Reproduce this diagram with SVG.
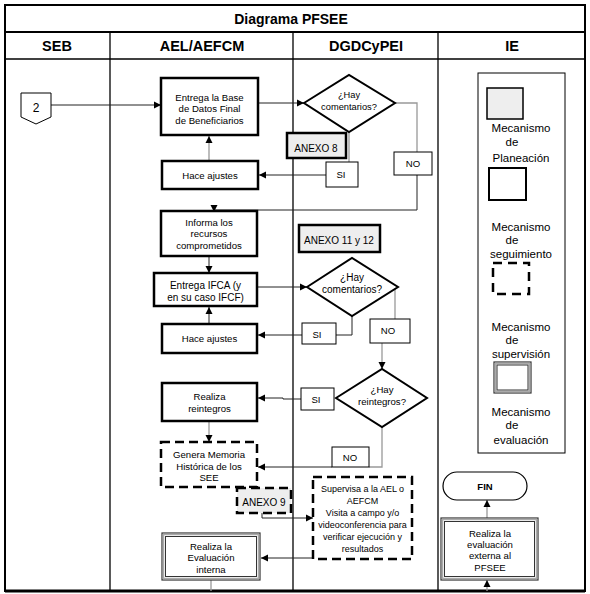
<svg xmlns="http://www.w3.org/2000/svg" width="590" height="594" viewBox="0 0 590 594">
<defs>
<style>
.frame{fill:none;stroke:#000;stroke-width:2}
.sep{stroke:#000;stroke-width:1.3;fill:none}
.box{fill:#fff;stroke:#000;stroke-width:2.5}
.dash{fill:#fff;stroke:#000;stroke-width:2.5;stroke-dasharray:9 5}
.anexo{fill:#eee;stroke:#000;stroke-width:2.5}
.anexod{fill:#eee;stroke:#000;stroke-width:2.5;stroke-dasharray:9 5}
.thin{fill:#fff;stroke:#000;stroke-width:1}
.dia{fill:#fff;stroke:#000;stroke-width:2}
.dbo{fill:#fff;stroke:#333;stroke-width:1.2}
.dbm{fill:none;stroke:#aaa;stroke-width:1.5}
.dbi{fill:none;stroke:#333;stroke-width:1}
.t{font-family:"Liberation Sans",Arial,sans-serif;font-size:9.6px;text-anchor:middle;fill:#000}
.s{font-size:9px}
.l{font-size:11.5px}
.h{font-family:"Liberation Sans",Arial,sans-serif;font-size:14.5px;font-weight:bold;text-anchor:middle;fill:#000}
.c{fill:none;stroke:#222;stroke-width:1}
.g{fill:none;stroke:#999;stroke-width:1.3}
</style>
<marker id="a" markerUnits="userSpaceOnUse" markerWidth="8" markerHeight="8" refX="7" refY="4" orient="auto">
<path d="M0,0.5 L7,4 L0,7.5 z" fill="#000"/>
</marker>
</defs>
<rect x="0" y="0" width="590" height="594" fill="#fff"/>
<g id="frame">
<rect class="frame" x="5" y="5" width="580" height="586"/>
<line class="sep" x1="5" y1="32" x2="585" y2="32" style="stroke-width:1.8"/>
<line class="sep" x1="5" y1="59" x2="585" y2="59"/>
<line class="sep" x1="110" y1="32" x2="110" y2="591"/>
<line class="sep" x1="293" y1="32" x2="293" y2="591"/>
<line class="sep" x1="438" y1="32" x2="438" y2="591"/>
<line x1="5" y1="591" x2="585" y2="591" stroke="#000" stroke-width="3"/>
<text class="h" x="291" y="24" style="font-size:14px">Diagrama PFSEE</text>
<text class="h" x="57" y="51">SEB</text>
<text class="h" x="202" y="51">AEL/AEFCM</text>
<text class="h" x="366" y="51">DGDCyPEI</text>
<text class="h" x="512" y="51">IE</text>
</g>
<g id="connectors">
<line class="c" x1="51" y1="105" x2="161" y2="105" marker-end="url(#a)"/>
<line class="c" x1="258" y1="103" x2="304" y2="103" marker-end="url(#a)"/>
<line class="g" x1="349" y1="132" x2="349" y2="162"/>
<line class="c" x1="326" y1="175" x2="259" y2="175" marker-end="url(#a)"/>
<line class="g" x1="209" y1="161" x2="209" y2="136" marker-end="url(#a)"/>
<path class="g" d="M395,103 H417 V152"/>
<path class="c" d="M417,175 V210 H214 V212" marker-end="url(#a)"/>
<line class="c" x1="209" y1="256" x2="209" y2="273" marker-end="url(#a)"/>
<line class="c" x1="257" y1="287" x2="307" y2="287" marker-end="url(#a)"/>
<path class="c" d="M352,316 V335 H336"/>
<line class="c" x1="302" y1="335" x2="258" y2="335" marker-end="url(#a)"/>
<line class="c" x1="209" y1="324" x2="209" y2="307" marker-end="url(#a)"/>
<line class="g" x1="395" y1="288" x2="395" y2="319"/>
<line class="g" x1="382" y1="343" x2="382" y2="369" marker-end="url(#a)"/>
<path class="c" d="M301,399 H283 V398 H258" marker-end="url(#a)"/>
<line class="g" x1="209" y1="421" x2="209" y2="442" marker-end="url(#a)"/>
<path class="g" d="M382,427 V467 H369"/>
<line class="c" x1="332" y1="467" x2="258" y2="467" marker-end="url(#a)"/>
<path class="c" d="M262,488 V518 H313" marker-end="url(#a)"/>
<line class="c" x1="313" y1="558" x2="261" y2="558" marker-end="url(#a)"/>
<line class="g" x1="211" y1="580" x2="211" y2="591"/>
<line class="g" x1="487" y1="518" x2="487" y2="500" marker-end="url(#a)"/>
<line class="g" x1="487" y1="591" x2="487" y2="580" marker-end="url(#a)"/>
</g>
<g id="n_conector2">
<polygon points="21,93 51,93 51,117 36,124 21,117" fill="#fff" stroke="#000" stroke-width="1"/>
<text class="t" x="36" y="112" style="font-size:12px">2</text>
</g>
<g id="n_entrega_base">
<rect class="box" x="161" y="78" width="97" height="57"/>
<text class="t" x="209.5" y="100.5">Entrega la Base</text>
<text class="t" x="209.5" y="112">de Datos Final</text>
<text class="t" x="209.5" y="123.5">de Beneficiarios</text>
</g>
<g id="n_hace_ajustes1">
<rect class="box" x="162" y="161" width="96" height="28"/>
<text class="t" x="210" y="178.5">Hace ajustes</text>
</g>
<g id="n_dia1">
<polygon class="dia" points="304,103 349,75 395,103 349,132"/>
<text class="t" x="349" y="98" style="font-size:9.3px">¿Hay</text>
<text class="t" x="349" y="110" style="font-size:9.3px">comentarios?</text>
</g>
<g id="n_anexo8">
<rect class="anexo" x="287" y="133" width="59" height="25"/>
<text class="t" x="316" y="152" style="font-size:10px">ANEXO 8</text>
</g>
<g id="n_si1">
<rect class="thin" x="326" y="162" width="32" height="25"/>
<text class="t" x="341" y="178">SI</text>
</g>
<g id="n_no1">
<rect class="thin" x="394" y="152" width="38" height="23"/>
<text class="t" x="413" y="167">NO</text>
</g>
<g id="n_informa">
<rect class="box" x="161" y="211" width="96" height="45"/>
<text class="t" x="209" y="225.5">Informa los</text>
<text class="t" x="209" y="237">recursos</text>
<text class="t" x="209" y="248.5">comprometidos</text>
</g>
<g id="n_anexo11">
<rect class="anexo" x="299" y="225" width="81" height="27"/>
<text class="t" x="339" y="244" style="font-size:10px">ANEXO 11 y 12</text>
</g>
<g id="n_ifca">
<rect class="box" x="154" y="273" width="103" height="33"/>
<text class="t" x="205.5" y="288.5" style="font-size:10px">Entrega IFCA (y</text>
<text class="t" x="205.5" y="300.5" style="font-size:10px">en su caso IFCF)</text>
</g>
<g id="n_dia2">
<polygon class="dia" points="307,287 352,258 398,287 352,316"/>
<text class="t" x="352" y="281" style="font-size:10px">¿Hay</text>
<text class="t" x="352" y="292.5" style="font-size:10px">comentarios?</text>
</g>
<g id="n_hace_ajustes2">
<rect class="box" x="162" y="324" width="95" height="29"/>
<text class="t" x="209.5" y="342">Hace ajustes</text>
</g>
<g id="n_si2">
<rect class="thin" x="302" y="323" width="34" height="21"/>
<text class="t" x="317" y="337.5">SI</text>
</g>
<g id="n_no2">
<rect class="thin" x="370" y="319" width="40" height="24"/>
<text class="t" x="388" y="333.5">NO</text>
</g>
<g id="n_dia3">
<polygon class="dia" points="336,398 382,369 427,398 382,427"/>
<text class="t" x="382" y="393">¿Hay</text>
<text class="t" x="382" y="404.5">reintegros?</text>
</g>
<g id="n_si3">
<rect class="thin" x="301" y="388" width="33" height="22"/>
<text class="t" x="316" y="402.5">SI</text>
</g>
<g id="n_reintegros">
<rect class="box" x="162" y="383" width="95" height="38"/>
<text class="t" x="209.5" y="400">Realiza</text>
<text class="t" x="209.5" y="411.5">reintegros</text>
</g>
<g id="n_no3">
<rect class="thin" x="332" y="447" width="37" height="20"/>
<text class="t" x="350" y="460.5">NO</text>
</g>
<g id="n_memoria">
<rect class="dash" x="161" y="442" width="96" height="45"/>
<text class="t" x="209" y="458">Genera Memoria</text>
<text class="t" x="209" y="469.5">Histórica de los</text>
<text class="t" x="209" y="481">SEE</text>
</g>
<g id="n_anexo9">
<rect class="anexod" x="237" y="488" width="54" height="25"/>
<text class="t" x="264" y="506" style="font-size:10px">ANEXO 9</text>
</g>
<g id="n_supervisa">
<rect class="dash" x="313" y="477" width="99" height="82"/>
<text class="t s" x="362.5" y="492">Supervisa a la AEL o</text>
<text class="t s" x="362.5" y="504">AEFCM</text>
<text class="t s" x="362.5" y="516">Visita a campo y/o</text>
<text class="t s" x="362.5" y="528">videoconferencia para</text>
<text class="t s" x="362.5" y="540">verificar ejecución y</text>
<text class="t s" x="362.5" y="552">resultados</text>
</g>
<g id="n_eval_interna">
<rect class="dbo" x="162" y="533" width="98" height="47"/>
<rect class="dbm" x="163.5" y="534.5" width="95" height="44"/>
<rect class="dbi" x="165.5" y="536.5" width="91" height="40"/>
<text class="t" x="211" y="549.5">Realiza la</text>
<text class="t" x="211" y="561">Evaluación</text>
<text class="t" x="211" y="572.5">interna</text>
</g>
<g id="n_legend">
<rect x="478" y="73" width="87" height="380" fill="#fff" stroke="#000" stroke-width="1"/>
<rect x="487" y="88" width="36" height="31" fill="#eee" stroke="#000" stroke-width="1.5"/>
<text class="t l" x="521" y="132">Mecanismo</text>
<text class="t l" x="512" y="146">de</text>
<text class="t l" x="521" y="162">Planeación</text>
<rect x="489" y="168" width="37" height="32" fill="#fff" stroke="#000" stroke-width="2"/>
<text class="t l" x="521" y="231">Mecanismo</text>
<text class="t l" x="512" y="244">de</text>
<text class="t l" x="521" y="258">seguimiento</text>
<rect x="493" y="263" width="36" height="31" fill="#fff" stroke="#000" stroke-width="2.5" stroke-dasharray="9 6"/>
<text class="t l" x="521" y="331">Mecanismo</text>
<text class="t l" x="512" y="344">de</text>
<text class="t l" x="521" y="358">supervisión</text>
<rect class="dbo" x="494" y="362" width="37" height="31"/>
<rect class="dbm" x="495.5" y="363.5" width="34" height="28"/>
<rect class="dbi" x="497" y="365" width="31" height="25"/>
<text class="t l" x="521" y="416">Mecanismo</text>
<text class="t l" x="512" y="429">de</text>
<text class="t l" x="521" y="444">evaluación</text>
</g>
<g id="n_fin">
<rect x="443" y="472" width="84" height="28" rx="14" ry="14" fill="#fff" stroke="#000" stroke-width="1.2"/>
<text class="t" x="485" y="489.5" style="font-weight:bold;font-size:9.5px">FIN</text>
</g>
<g id="n_eval_externa">
<rect class="dbo" x="441" y="518" width="97" height="62"/>
<rect class="dbm" x="442.5" y="519.5" width="94" height="59"/>
<rect class="dbi" x="444.5" y="521.5" width="90" height="55"/>
<text class="t" x="490" y="536.5">Realiza la</text>
<text class="t" x="490" y="547.5">evaluación</text>
<text class="t" x="490" y="559">externa al</text>
<text class="t" x="490" y="570.5">PFSEE</text>
</g>
</svg>
